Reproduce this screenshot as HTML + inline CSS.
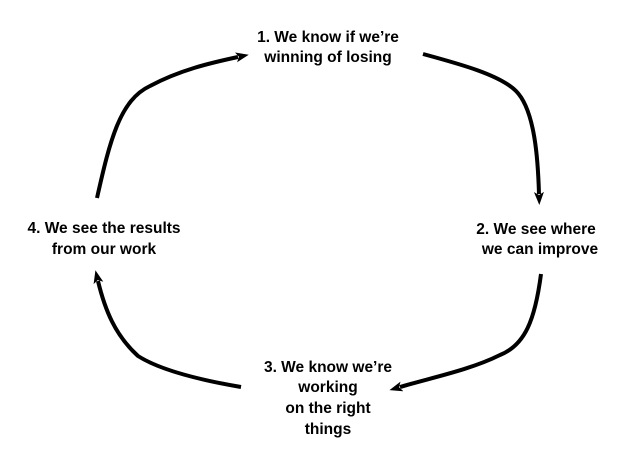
<!DOCTYPE html>
<html><head><style>
body{margin:0;width:640px;height:470px;background:#fff;overflow:hidden}
</style></head><body>
<svg width="640" height="470" xmlns="http://www.w3.org/2000/svg" style="position:absolute;left:0;top:0">
<defs><marker id="a" markerWidth="14" markerHeight="10" refX="2" refY="5" orient="auto" markerUnits="userSpaceOnUse"><path d="M0,0 L13,5 L0,10 L3,5 z" fill="#000"/></marker></defs>
<g fill="none" stroke="#000" stroke-width="4" stroke-linecap="butt">
<path d="M97,198 C110,140 120,100 150,86 C180,70 210,63 238,57" marker-end="url(#a)"/>
<path d="M423,54 C460,64 500,75 516,91 C535,110 538,160 539,194" marker-end="url(#a)"/>
<path d="M541,274 C535,320 525,345 500,355 C470,370 430,378 400,387" marker-end="url(#a)"/>
<path d="M241,387 C200,380 160,370 138,356 C115,335 105,310 98,281" marker-end="url(#a)"/>
</g>
<g font-family="Liberation Sans, sans-serif" font-weight="bold" font-size="15.5" fill="#000" text-anchor="middle">
<text x="328" y="42">1. We know if we’re</text>
<text x="328" y="62">winning of losing</text>
<text x="536" y="234">2. We see where</text>
<text x="540" y="254">we can improve</text>
<text x="104" y="233">4. We see the results</text>
<text x="104" y="254">from our work</text>
<text x="328" y="372">3. We know we’re</text>
<text x="328" y="392">working</text>
<text x="328" y="413">on the right</text>
<text x="328" y="434">things</text>
</g>
</svg>
</body></html>
